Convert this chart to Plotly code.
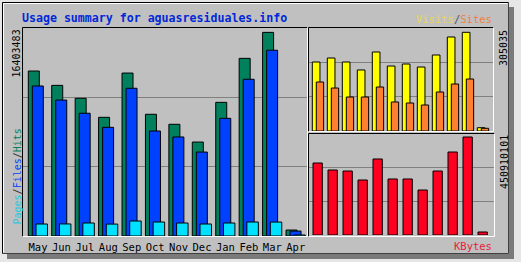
import plotly.graph_objects as go

# ---------------- data ----------------
months = ["May", "Jun", "Jul", "Aug", "Sep", "Oct", "Nov", "Dec", "Jan", "Feb", "Mar", "Apr"]
hits = [13010000, 11880000, 10860000, 9360000, 12850000, 9600000, 8810000, 7410000, 10540000, 14010000, 16060000, 470000]
files = [11830000, 10720000, 9680000, 8570000, 11650000, 8280000, 7810000, 6620000, 9280000, 12360000, 14650000, 390000]
pages = [946000, 950000, 1025000, 940000, 1183000, 1104000, 1025000, 946000, 1025000, 1104000, 1100000, 80000]
visits = [204300, 216200, 204300, 180700, 234000, 192500, 198400, 189500, 225100, 278400, 292300, 9800]
sites = [145100, 127300, 100700, 100700, 130300, 85900, 82900, 77000, 115500, 139200, 154000, 8000]
kbytes = [318300000, 287300000, 282900000, 243100000, 336000000, 247600000, 247600000, 198900000, 282900000, 366900000, 433200000, 13300000]
max_hits = 16403483
max_visits = 305035
max_kbytes = 450910101

W, H = 521, 262
def fx(x):
    return x / W
def fy(y):
    return 1 - y / H

GRAY = "#c0c0c0"
GRID = "#808080"
MONO = "DejaVu Sans Mono"
idx = list(range(12))

fig = go.Figure()

# left panel bars
bw_l = 11 / 23.43
fig.add_trace(go.Bar(x=idx, y=hits, offset=0.269, width=bw_l, marker=dict(color="#00805c", line=dict(color="black", width=1)), xaxis="x", yaxis="y"))
fig.add_trace(go.Bar(x=idx, y=files, offset=0.44, width=bw_l, marker=dict(color="#0040ff", line=dict(color="black", width=1)), xaxis="x", yaxis="y"))
fig.add_trace(go.Bar(x=idx, y=pages, offset=0.5975, width=0.49, marker=dict(color="#00e0ff", line=dict(color="black", width=1)), xaxis="x", yaxis="y"))

# right top bars
fig.add_trace(go.Bar(x=idx, y=visits, offset=0.287, width=0.51, marker=dict(color="#ffff00", line=dict(color="black", width=1)), xaxis="x2", yaxis="y2"))
fig.add_trace(go.Bar(x=idx, y=sites, offset=0.553, width=0.49, marker=dict(color="#ff8030", line=dict(color="black", width=1)), xaxis="x2", yaxis="y2"))

# right bottom bars
fig.add_trace(go.Bar(x=idx, y=kbytes, offset=0.333, width=0.62, marker=dict(color="#ff0020", line=dict(color="black", width=1)), xaxis="x3", yaxis="y3"))

def yax(domain, mx):
    return dict(domain=domain, range=[0, mx], tickvals=[mx / 3, 2 * mx / 3], showticklabels=False,
                showgrid=True, gridcolor=GRID, gridwidth=1, zeroline=False, showline=False, fixedrange=True)

fig.update_layout(
    width=W, height=H, margin=dict(l=0, r=0, t=0, b=0),
    paper_bgcolor="#e6e6e6", plot_bgcolor="rgba(0,0,0,0)",
    showlegend=False, barmode="overlay",
    xaxis=dict(domain=[fx(22), fx(307)], range=[0, 285 / 23.43], tickvals=[i + 0.683 for i in idx], ticktext=months,
               tickfont=dict(family=MONO, size=10.5, color="black"), ticks="", showgrid=False, zeroline=False,
               showline=False, ticklabelstandoff=3),
    yaxis=yax([fy(236), fy(28)], max_hits),
    xaxis2=dict(domain=[fx(308), fx(493)], range=[0, 185 / 15], showticklabels=False, showgrid=False, zeroline=False, anchor="y2"),
    yaxis2=yax([fy(131), fy(28)], max_visits) | dict(anchor="x2"),
    xaxis3=dict(domain=[fx(308), fx(494)], range=[0, 186 / 15], showticklabels=False, showgrid=False, zeroline=False, anchor="y3"),
    yaxis3=yax([fy(235), fy(133)], max_kbytes) | dict(anchor="x3"),
)

shapes = []
def rect(x0, y0, x1, y1, fill, layer="below"):
    shapes.append(dict(type="rect", xref="paper", yref="paper", x0=fx(x0), x1=fx(x1), y0=fy(y1), y1=fy(y0),
                       fillcolor=fill, line=dict(width=0), layer=layer))
def line(x0, y0, x1, y1, color):
    shapes.append(dict(type="line", xref="paper", yref="paper", x0=fx(x0), x1=fx(x1), y0=fy(y0), y1=fy(y1),
                       line=dict(color=color, width=1), layer="above"))

# outer frame with shadow
rect(7, 7, 514, 259, "#7a7a7a")
rect(2, 2, 509, 254, GRAY)
line(2.5, 2.5, 508.5, 2.5, "black")
line(2.5, 2.5, 2.5, 253.5, "black")
line(3.5, 3.5, 507.5, 3.5, "white")
line(3.5, 3.5, 3.5, 252.5, "white")
line(508.5, 2.5, 508.5, 253.5, "#404040")
line(2.5, 253.5, 508.5, 253.5, "#404040")

# panel borders (inset look)
def panel(x0, y0, x1, y1):
    line(x0, y0, x1, y0, "black")
    line(x0, y0, x0, y1, "black")
    line(x0, y1, x1, y1, "white")
    line(x1, y0, x1, y1, "white")
panel(22.5, 27.5, 307.5, 236.5)
panel(308.5, 27.5, 493.5, 131.5)
panel(308.5, 133.5, 494.5, 236.5)

fig.update_layout(shapes=shapes)

ann = []
ann.append(dict(text="<b>Usage summary for aguasresiduales.info</b>", x=fx(20), y=fy(17.5), xanchor="left", yanchor="middle",
                font=dict(family=MONO, size=11.6, color="#0028d8")))
ann.append(dict(text="<span style='color:#e8d850'>Visits</span><span style='color:#555'>/</span><span style='color:#ee8040'>Sites</span>",
                x=fx(494), y=fy(19), xanchor="right", yanchor="middle", font=dict(family=MONO, size=10.5)))
ann.append(dict(text=str(max_hits), x=fx(16.5), y=fy(28), xanchor="center", yanchor="top", textangle=-90,
                font=dict(family=MONO, size=10, color="black")))
ann.append(dict(text="<span style='color:#20c8e0'>Pages</span><span style='color:#333'>/</span><span style='color:#0040ff'>Files</span><span style='color:#333'>/</span><span style='color:#00805c'>Hits</span>",
                x=fx(16.5), y=fy(227), xanchor="center", yanchor="bottom", textangle=-90, font=dict(family=MONO, size=10)))
ann.append(dict(text=str(max_visits), x=fx(504), y=fy(28), xanchor="center", yanchor="top", textangle=-90,
                font=dict(family=MONO, size=10, color="black")))
ann.append(dict(text=str(max_kbytes), x=fx(504), y=fy(133), xanchor="center", yanchor="top", textangle=-90,
                font=dict(family=MONO, size=10, color="black")))
ann.append(dict(text="KBytes", x=fx(494), y=fy(246), xanchor="right", yanchor="middle",
                font=dict(family=MONO, size=10.5, color="#e8203c")))
for a in ann:
    a.update(xref="paper", yref="paper", showarrow=False)
fig.update_layout(annotations=ann)

fig.write_html("out.html")
